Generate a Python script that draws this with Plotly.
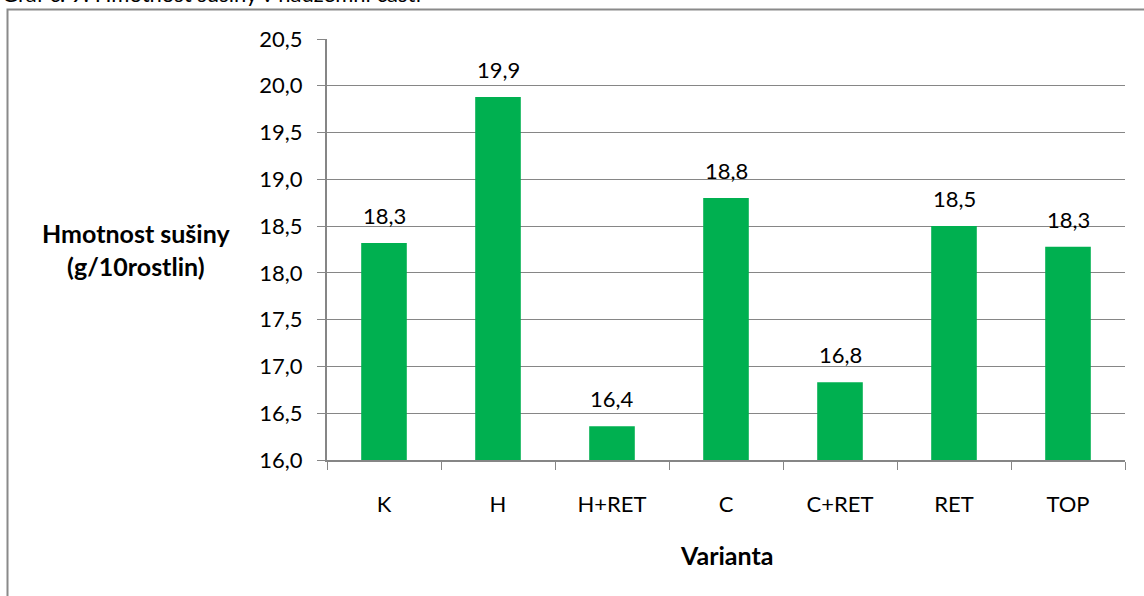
import plotly.graph_objects as go

# Dry-matter weight per variant (g / 10 plants)
varianty = ["K", "H", "H+RET", "C", "C+RET", "RET", "TOP"]
hmotnost = [18.32, 19.88, 16.36, 18.80, 16.83, 18.50, 18.28]

y_ticks = [16.0, 16.5, 17.0, 17.5, 18.0, 18.5, 19.0, 19.5, 20.0, 20.5]

W, H = 1144, 596
L, R, T, B = 327, 19, 39, 136
plot_w = W - L - R
plot_h = H - T - B


def px_x(px):
    return (px - L) / plot_w


def px_y(py):
    return (H - B - py) / plot_h


FONT = "Lato, 'Open Sans', sans-serif"
GRID = "#868686"
SIZE = 22
BOLD = 25

fig = go.Figure(
    go.Bar(
        x=varianty,
        y=hmotnost,
        marker=dict(color="#00B050", line=dict(width=0)),
        width=0.4,
        hoverinfo="skip",
    )
)

fig.update_layout(
    width=W,
    height=H,
    margin=dict(l=L, r=R, t=T, b=B, pad=0),
    paper_bgcolor="white",
    plot_bgcolor="white",
    separators=",.",
    showlegend=False,
    font=dict(family=FONT, size=SIZE, color="#000000"),
    bargap=0.6,
)

fig.update_yaxes(
    range=[16.0, 20.5],
    tickvals=y_ticks,
    tickformat=".1f",
    showgrid=True,
    gridcolor=GRID,
    gridwidth=1.4,
    showline=True,
    linecolor=GRID,
    linewidth=2,
    ticks="outside",
    ticklen=8,
    tickcolor=GRID,
    tickwidth=1.4,
    ticklabelstandoff=10,
    tickfont=dict(family=FONT, size=SIZE),
    zeroline=False,
    fixedrange=True,
)

fig.update_xaxes(
    type="category",
    showgrid=False,
    showline=True,
    linecolor=GRID,
    linewidth=2,
    ticks="outside",
    tickson="boundaries",
    ticklen=8,
    tickcolor=GRID,
    tickwidth=1.4,
    ticklabelstandoff=24,
    tickfont=dict(family=FONT, size=SIZE),
    fixedrange=True,
)

annotations = []
# value labels above each bar, placed on the data coordinates
for name, val in zip(varianty, hmotnost):
    annotations.append(dict(
        x=name, y=val, xref="x", yref="y",
        text=f"{val:.1f}".replace(".", ","),
        xanchor="center", yanchor="bottom", yshift=12,
        showarrow=False, font=dict(family=FONT, size=SIZE),
    ))

for a in [
    dict(text="<b>Hmotnost sušiny</b><br><b>(g/10rostlin)</b>",
         x=px_x(136), y=px_y(249), xanchor="center", yanchor="middle",
         font=dict(family=FONT, size=BOLD)),
    dict(text="<b>Varianta</b>",
         x=px_x(726), y=px_y(555), xanchor="center", yanchor="middle",
         font=dict(family=FONT, size=BOLD)),
    dict(text="Graf č. 9: Hmotnost sušiny v nadzemní části",
         x=px_x(0), y=px_y(-7), xanchor="left", yanchor="middle",
         font=dict(family=FONT, size=SIZE)),
]:
    a.update(xref="paper", yref="paper", showarrow=False, align="center")
    annotations.append(a)
fig.update_layout(annotations=annotations)

# outer chart frame, running past the right and bottom page edges
fig.add_shape(type="rect", xref="paper", yref="paper",
              x0=px_x(7.5), x1=px_x(1300), y0=px_y(9.5), y1=px_y(700),
              line=dict(color="#8a8a8a", width=2), fillcolor="rgba(0,0,0,0)",
              layer="below")

fig.write_html("out.html")
